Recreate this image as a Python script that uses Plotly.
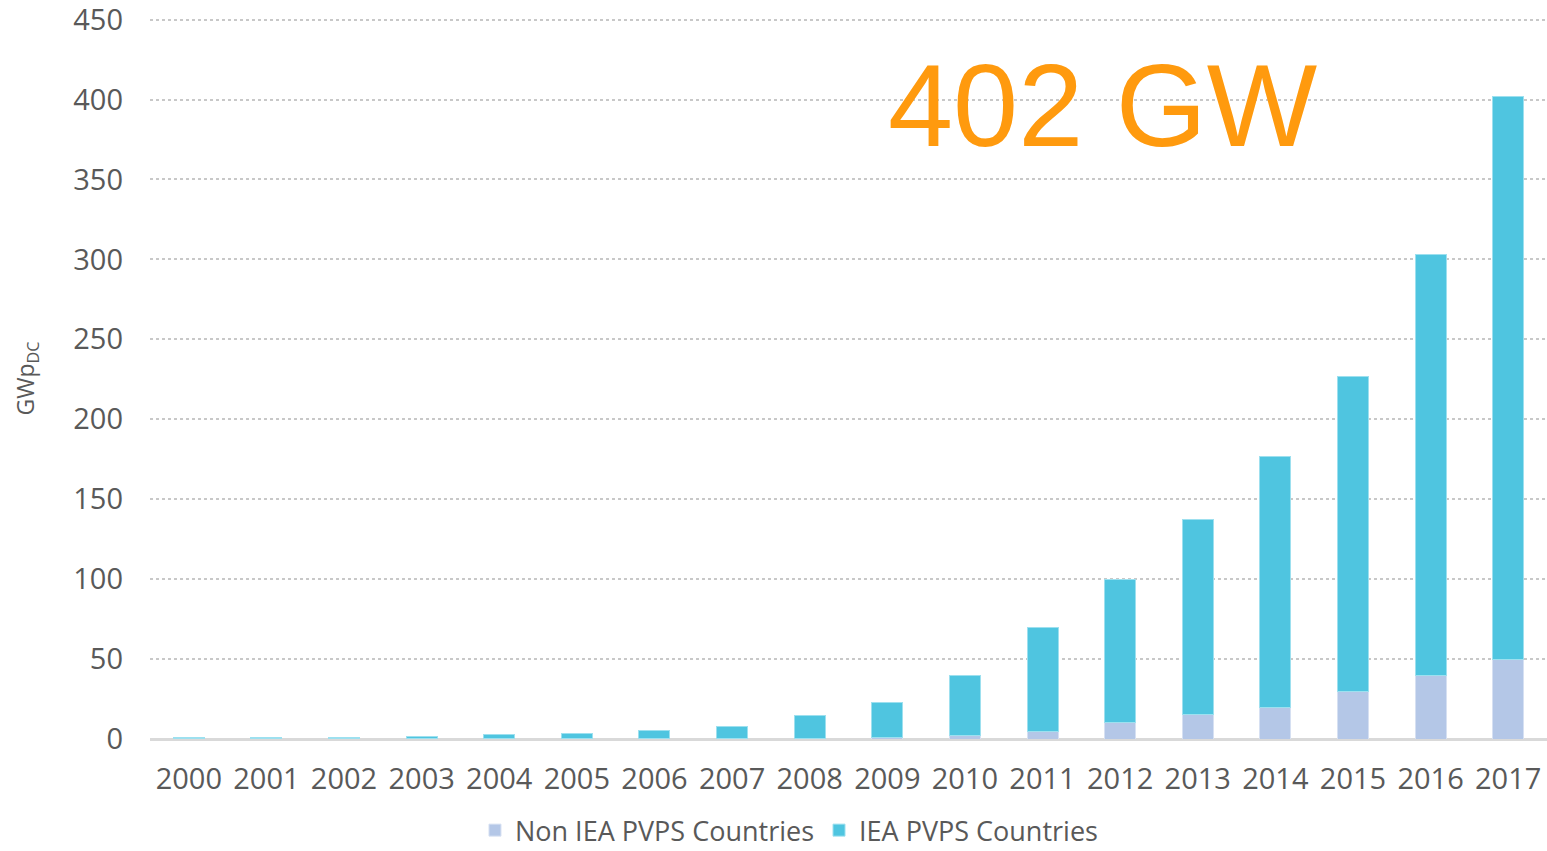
import plotly.graph_objects as go

years = [str(y) for y in range(2000, 2018)]
non_iea = [0.1, 0.1, 0.1, 0.1, 0.1, 0.1, 0.2, 0.3, 0.5, 0.8, 2.5, 5.0, 10.5, 15.5, 20.0, 29.5, 40.0, 50.0]
iea = [0.6, 0.7, 0.9, 1.5, 2.5, 3.6, 5.4, 7.7, 13.9, 22.2, 37.5, 65.0, 89.0, 121.5, 157.0, 197.5, 263.0, 352.0]
total_label = "402 GW"
y_ticks = [0, 50, 100, 150, 200, 250, 300, 350, 400, 450]

tick_font = dict(family="Open Sans, DejaVu Sans, sans-serif", size=29, color="#595959")

fig = go.Figure()
fig.add_trace(go.Bar(
    x=years, y=non_iea, name="Non IEA PVPS Countries",
    marker=dict(color="#B4C7E7", line=dict(color="#D6E0F2", width=1)),
))
fig.add_trace(go.Bar(
    x=years, y=iea, name="IEA PVPS Countries",
    marker=dict(color="#4FC5E0", line=dict(color="#9DE0EF", width=1)),
))

fig.add_annotation(
    text=total_label, xref="paper", yref="y", x=0.6825, y=396,
    xanchor="center", yanchor="middle", showarrow=False,
    font=dict(family="Liberation Sans, Arial, sans-serif", size=117, color="#FF9A0E"),
)

fig.update_layout(
    width=1547, height=851,
    margin=dict(l=150, r=0, t=18, b=112),
    paper_bgcolor="white", plot_bgcolor="white",
    barmode="stack", bargap=0.6,
    showlegend=True,
    legend=dict(
        orientation="h", xref="container", x=0.51, xanchor="center",
        yref="container", y=0.024, yanchor="middle",
        font=dict(family="Open Sans, DejaVu Sans, sans-serif", size=27, color="#595959"),
        traceorder="normal", itemwidth=30,
    ),
    xaxis=dict(
        type="category", showgrid=False, showline=False, zeroline=False,
        tickfont=tick_font, ticks="", ticklabelstandoff=20,
    ),
    yaxis=dict(
        range=[0, 451], tickvals=y_ticks, showgrid=True,
        gridcolor="#C8C8C8", gridwidth=2, griddash="dot",
        zeroline=True, zerolinecolor="#D9D9D9", zerolinewidth=3,
        showline=False, tickfont=tick_font, ticks="", ticklabelstandoff=26,
        ticklabeloverflow="allow",
        title=dict(text="GWp<sub>DC</sub>", font=dict(family="Open Sans, DejaVu Sans, sans-serif", size=23, color="#595959"), standoff=32),
    ),
)

fig.write_html("out.html")
